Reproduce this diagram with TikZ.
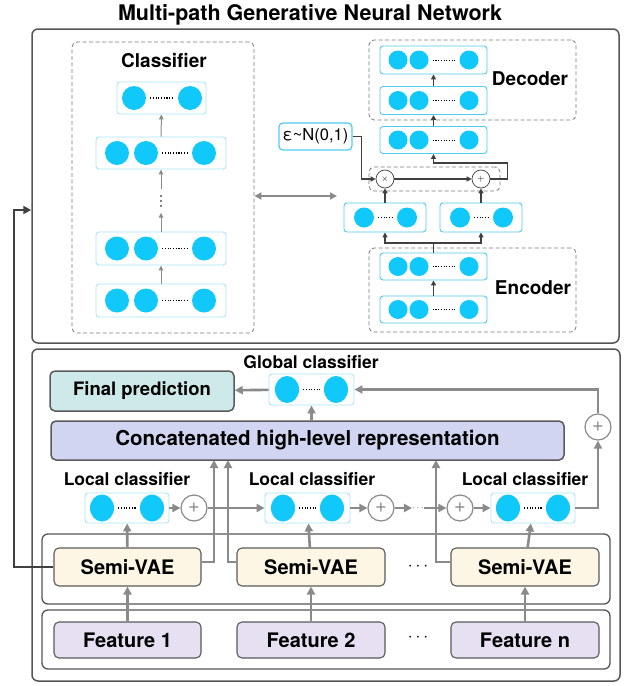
\documentclass[tikz,border=0pt]{standalone}
\usepackage{fontspec}
\setmainfont{TeX Gyre Heros}
\usetikzlibrary{arrows.meta}
\usetikzlibrary{shapes.geometric}

\definecolor{unitblue}{HTML}{10C8FA}
\definecolor{paleedge}{HTML}{A9E5F7}
\definecolor{brightedge}{HTML}{4FCBF2}
\definecolor{dashgray}{HTML}{7A7A7A}
\definecolor{panelgray}{HTML}{555555}
\definecolor{arrowgray}{HTML}{8C8C8C}
\definecolor{darkline}{HTML}{404040}
\definecolor{flowgray}{HTML}{8A8A8A}
\definecolor{predfill}{HTML}{CDE9EA}
\definecolor{concatfill}{HTML}{D2D5F2}
\definecolor{vaefill}{HTML}{FDF6E4}
\definecolor{featfill}{HTML}{E6E0F2}
\definecolor{blockedge}{HTML}{5A5A5A}

\tikzset{
  panel/.style={draw=panelgray, line width=1.5pt, rounded corners=6pt, inner sep=0pt},
  dashbox/.style={draw=dashgray, dash pattern=on 4pt off 2.5pt, line width=0.8pt, rounded corners=5pt, inner sep=0pt},
  layer/.style={draw=paleedge, line width=0.9pt, rounded corners=3pt, fill=white, inner sep=0pt},
  unit/.style={circle, fill=unitblue, inner sep=0pt, minimum size=24pt},
  smallunit/.style={circle, fill=unitblue, inner sep=0pt, minimum size=19pt},
  ovalunit/.style={ellipse, fill=unitblue, inner sep=0pt, minimum width=24pt, minimum height=27pt},
  dots/.style={line width=1.1pt, dash pattern=on 1.1pt off 1.6pt, shorten >=4pt, shorten <=4pt},
  thinarrow/.style={draw=arrowgray, line width=1pt, -{Triangle[length=5pt,width=4.5pt]}},
  darkarrow/.style={draw=darkline, line width=1.6pt, -{Triangle[length=5pt,width=5pt]}},
  darkline/.style={draw=darkline, line width=1.6pt},
  flow/.style={draw=flowgray, line width=2.6pt, -{Triangle[length=8pt,width=8pt]}},
  opnode/.style={circle, draw=darkline, line width=0.7pt, fill=white, minimum size=18pt, inner sep=0pt, font=\fontsize{9}{9}\selectfont},
  plusnode/.style={circle, draw=flowgray, line width=1.2pt, fill=white, minimum size=26pt, inner sep=0pt, text=flowgray, font=\fontsize{20}{20}\selectfont},
  lbl/.style={font=\bfseries\fontsize{19}{22}\selectfont},
  sublbl/.style={font=\bfseries\fontsize{17.5}{20}\selectfont},
  block/.style={draw=blockedge, line width=1.1pt, rounded corners=5pt, inner sep=0pt, font=\bfseries\fontsize{20}{24}\selectfont},
}

\begin{document}
\begin{tikzpicture}[x=1pt, y=-1pt]
\useasboundingbox (0,0) rectangle (630,686);

% Title
\node[font=\bfseries\fontsize{21.5}{24}\selectfont] (title) at (310,15) {Multi-path Generative Neural Network};

% Top panel
\node[panel, minimum width=587pt, minimum height=314pt] (toppanel) at (325.5,186) {};

% Classifier
\node[dashbox, minimum width=182pt, minimum height=291pt] (classbox) at (163,187.5) {};
\node[lbl] (classlbl) at (164,61) {Classifier};

\node[layer, minimum width=89pt, minimum height=32pt] (c4) at (161.5,98) {};
\node[unit] (c4a) at (134,98) {};
\node[unit] (c4b) at (190,98) {};
\draw[dots] (c4a) -- (c4b);

\node[layer, minimum width=130pt, minimum height=32pt] (c3) at (161,153) {};
\node[unit] (c3a) at (117,153) {};
\node[unit] (c3b) at (146,153) {};
\node[unit] (c3c) at (204,153) {};
\draw[dots] (c3b) -- (c3c);

% skipped layers
\node[minimum height=23pt, minimum width=6pt, inner sep=0pt] (cdots) at (161,201) {};
\fill (cdots.center) ++(0,-5) circle (0.8pt);
\fill (cdots.center) circle (0.8pt);
\fill (cdots.center) ++(0,5) circle (0.8pt);

\node[layer, minimum width=130pt, minimum height=33pt] (c2) at (161,248.5) {};
\node[unit] (c2a) at (117,248.5) {};
\node[unit] (c2b) at (146,248.5) {};
\node[unit] (c2c) at (204,248.5) {};
\draw[dots] (c2b) -- (c2c);

\node[layer, minimum width=130pt, minimum height=33pt] (c1) at (161,300.5) {};
\node[unit] (c1a) at (117,300.5) {};
\node[unit] (c1b) at (146,300.5) {};
\node[unit] (c1c) at (204,300.5) {};
\draw[dots] (c1b) -- (c1c);

\draw[thinarrow] (c1) -- (c2);
\draw[thinarrow] (c2) -- (cdots);
\draw[thinarrow] (cdots) -- (c3);
\draw[thinarrow] (c3) -- (c4);

% Link between classifier and VAE
\coordinate (vaelink) at (337,196);
\draw[draw=flowgray, line width=2pt, {Triangle[length=7pt,width=7pt]}-{Triangle[length=7pt,width=7pt]}] (classbox.east |- vaelink) -- (vaelink);

% Decoder
\node[dashbox, minimum width=207pt, minimum height=80pt] (decbox) at (472.5,80) {};
\node[lbl] (declbl) at (530,79) {Decoder};

\node[layer, draw=brightedge, minimum width=107pt, minimum height=28pt] (d2) at (433.5,60) {};
\node[smallunit] (d2a) at (398,60) {};
\node[smallunit] (d2b) at (419,60) {};
\node[smallunit] (d2c) at (469,60) {};
\draw[dots, line width=0.8pt] (d2b) -- (d2c);

\node[layer, draw=brightedge, minimum width=107pt, minimum height=28pt] (d1) at (433.5,100.5) {};
\node[smallunit] (d1a) at (398,100.5) {};
\node[smallunit] (d1b) at (419,100.5) {};
\node[smallunit] (d1c) at (469,100.5) {};
\draw[dots, line width=0.8pt] (d1b) -- (d1c);

% Latent layer
\node[layer, draw=brightedge, minimum width=107pt, minimum height=27pt] (z) at (433.5,140) {};
\node[smallunit] (za) at (398,140) {};
\node[smallunit] (zb) at (419,140) {};
\node[smallunit] (zc) at (469,140) {};
\draw[dots, line width=0.8pt] (zb) -- (zc);

\node[draw=brightedge, line width=1.2pt, rounded corners=4pt, fill=white, minimum width=73pt, minimum height=27pt, inner sep=0pt, font=\fontsize{16.5}{18}\selectfont] (eps) at (315.5,136.5) {ε\textasciitilde N(0,1)};

% Reparameterisation
\node[dashbox, minimum width=131pt, minimum height=24pt] (opsbox) at (434.5,179) {};
\node[opnode] (times) at (385,179) {$\times$};
\node[opnode] (plus) at (481,179) {$+$};

\node[layer, draw=brightedge, minimum width=82pt, minimum height=29pt] (mu) at (385,217.5) {};
\node[smallunit, minimum size=20pt] (mua) at (364,217.5) {};
\node[smallunit, minimum size=20pt] (mub) at (407,217.5) {};
\draw[dots, line width=0.8pt] (mua) -- (mub);

\node[layer, draw=brightedge, minimum width=82pt, minimum height=29pt] (sigma) at (481,217.5) {};
\node[smallunit, minimum size=20pt] (sigmaa) at (460,217.5) {};
\node[smallunit, minimum size=20pt] (sigmab) at (503,217.5) {};
\draw[dots, line width=0.8pt] (sigmaa) -- (sigmab);

% Encoder
\node[dashbox, minimum width=207pt, minimum height=84pt] (encbox) at (472.5,290) {};
\node[lbl] (enclbl) at (533,288) {Encoder};

\node[layer, draw=brightedge, minimum width=107pt, minimum height=27pt] (e2) at (433.5,266.5) {};
\node[smallunit] (e2a) at (398,266.5) {};
\node[smallunit] (e2b) at (419,266.5) {};
\node[smallunit] (e2c) at (469,266.5) {};
\draw[dots, line width=0.8pt] (e2b) -- (e2c);

\node[layer, draw=brightedge, minimum width=107pt, minimum height=27pt] (e1) at (433.5,309.5) {};
\node[smallunit] (e1a) at (398,309.5) {};
\node[smallunit] (e1b) at (419,309.5) {};
\node[smallunit] (e1c) at (469,309.5) {};
\draw[dots, line width=0.8pt] (e1b) -- (e1c);

\draw[darkarrow] (e1) -- (e2);
\coordinate (split) at (433.5,243);
\draw[darkline] (e2.north) -- (split);
\draw[darkarrow] (split) -| (mu.south);
\draw[darkarrow] (split) -| (sigma.south);
\draw[darkarrow] (mu) -- (times);
\draw[darkarrow] (sigma) -- (plus);
\draw[darkarrow] (eps.east) -- ++(9,0) |- (times.west);
\draw[darkarrow] (times) -- (plus);
\draw[darkarrow] (plus.east) -- ++(17,0) -- ++(0,-16) -| (z.south);
\draw[darkarrow] (z) -- (d1);
\draw[darkarrow] (d1) -- (d2);

% Bottom panel
\node[panel, minimum width=588pt, minimum height=332pt] (botpanel) at (326,515) {};
\node[panel, line width=1.3pt, minimum width=568pt, minimum height=70pt] (vaerow) at (326,569) {};
\node[panel, line width=1.3pt, minimum width=568pt, minimum height=59pt] (featrow) at (326,639.5) {};

\node[sublbl] (globallbl) at (311,362) {Global classifier};
\node[block, fill=predfill, line width=1.5pt, font=\bfseries\fontsize{18.5}{22}\selectfont, minimum width=184pt, minimum height=40pt] (pred) at (142,391) {Final prediction};

\node[layer, minimum width=85pt, minimum height=31pt] (g) at (311.5,389.5) {};
\node[ovalunit] (ga) at (287,389.5) {};
\node[ovalunit] (gb) at (336,389.5) {};
\draw[dots] (ga) -- (gb);

\node[block, fill=concatfill, line width=1.5pt, font=\bfseries\fontsize{20.5}{24}\selectfont, minimum width=513pt, minimum height=39pt] (concat) at (307.5,440.5) {Concatenated high-level representation};

\node[plusnode] (psum) at (598,427) {+};

% Local classifiers
\node[sublbl] (l1lbl) at (127,479) {Local classifier};
\node[sublbl] (l2lbl) at (312,479) {Local classifier};
\node[sublbl] (l3lbl) at (525,479) {Local classifier};

\node[layer, minimum width=84pt, minimum height=30pt] (l1) at (127,508) {};
\node[ovalunit] (l1a) at (102,508) {};
\node[ovalunit] (l1b) at (152,508) {};
\draw[dots] (l1a) -- (l1b);

\node[layer, minimum width=85pt, minimum height=30pt] (l2) at (307.5,508) {};
\node[ovalunit] (l2a) at (283,508) {};
\node[ovalunit] (l2b) at (332,508) {};
\draw[dots] (l2a) -- (l2b);

\node[layer, minimum width=84pt, minimum height=30pt] (l3) at (533,508) {};
\node[ovalunit] (l3a) at (508,508) {};
\node[ovalunit] (l3b) at (558,508) {};
\draw[dots] (l3a) -- (l3b);

\node[plusnode] (p1) at (194,508) {+};
\node[plusnode] (p2) at (381,508) {+};
\node[plusnode] (p3) at (460,508) {+};
\node[inner sep=0pt, text=flowgray, font=\fontsize{10}{10}\selectfont] (ldots) at (418,508) {$\cdots$};

% Semi-VAE and features
\node[block, fill=vaefill, minimum width=147pt, minimum height=38pt] (s1) at (127.5,567) {Semi-VAE};
\node[block, fill=vaefill, minimum width=148pt, minimum height=38pt] (s2) at (311,567) {Semi-VAE};
\node[block, fill=vaefill, minimum width=148pt, minimum height=38pt] (s3) at (525,567) {Semi-VAE};
\node[font=\fontsize{16}{16}\selectfont] (sdots) at (418,567) {$\cdots$};

\node[block, fill=featfill, minimum width=147pt, minimum height=36pt] (f1) at (127.5,640) {Feature 1};
\node[block, fill=featfill, minimum width=148pt, minimum height=36pt] (f2) at (311,640) {Feature 2};
\node[block, fill=featfill, minimum width=148pt, minimum height=36pt] (f3) at (525,640) {Feature n};
\node[font=\fontsize{16}{16}\selectfont] (fdots) at (418,638) {$\cdots$};

\draw[flow] (f1) -- (s1);
\draw[flow] (f2) -- (s2);
\draw[flow] (f3) -- (s3);
\draw[flow] (s1) -- (l1);
\draw[flow] (s2) -- (l2);
\draw[flow] (s3) -- (l3);

\draw[flow] ([yshift=5pt]s1.east) -| (214,460);
\draw[flow] ([yshift=5pt]s2.west) -| (228,460);
\draw[flow] ([yshift=5pt]s3.west) -| (436,460);

\draw[flow] (l1) -- (p1);
\draw[flow] (p1) -- (l2);
\draw[flow] (l2) -- (p2);
\draw[flow] (p2) -- (ldots);
\draw[flow] (ldots) -- (p3);
\draw[flow] (p3) -- (l3);
\draw[flow] (l3.east) -| (psum.south);
\draw[flow] (psum.north) |- (g.east);
\draw[flow] (concat.north -| g) -- (g);
\draw[flow] (g) -- (pred);

% Feedback to the generative network
\coordinate (feedin) at (toppanel.west |- 0,210);
\draw[draw=darkline, line width=2.8pt, -{Triangle[length=8pt,width=8pt]}] (s1.west) -- (14,567) -- (14,210) -- (feedin);
\end{tikzpicture}
\end{document}
